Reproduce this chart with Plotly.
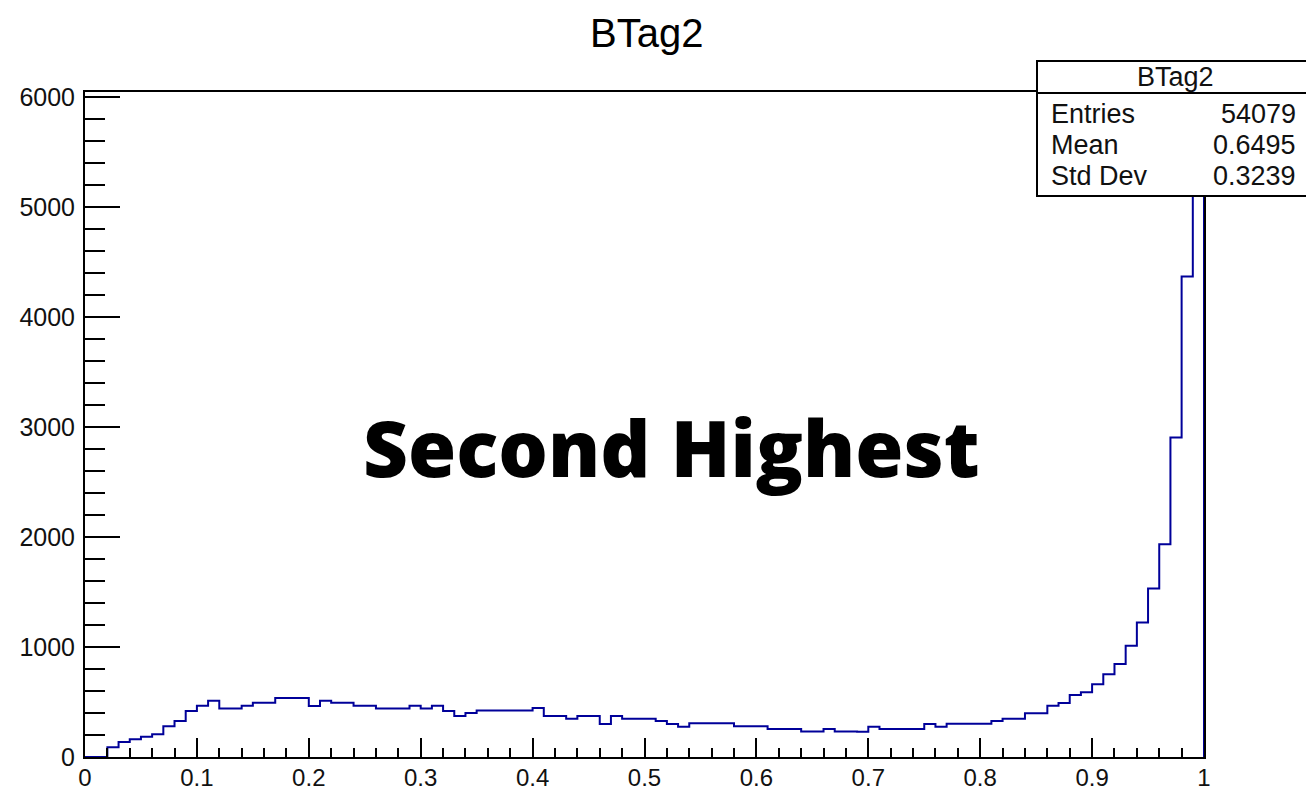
import plotly.graph_objects as go

# ---- data -------------------------------------------------------------
n_bins = 100
bin_width = 0.01
counts = [
    0, 0, 88, 136, 161, 185, 206, 279, 327, 418,          # 0.00-0.09
    467, 512, 442, 442, 467, 494, 494, 536, 536, 536,      # 0.10-0.19
    464, 512, 494, 494, 467, 467, 442, 442, 442, 467,      # 0.20-0.29
    442, 467, 418, 373, 400, 424, 424, 424, 424, 424,      # 0.30-0.39
    445, 373, 373, 348, 373, 373, 300, 373, 348, 348,      # 0.40-0.49
    348, 327, 300, 276, 306, 306, 306, 306, 279, 279,      # 0.50-0.59
    279, 255, 255, 255, 233, 233, 255, 233, 233, 230,      # 0.60-0.69
    276, 255, 255, 255, 255, 300, 276, 303, 303, 303,      # 0.70-0.79
    303, 327, 348, 348, 397, 397, 467, 491, 564, 588,      # 0.80-0.89
    661, 752, 845, 1012, 1224, 1533, 1936, 2905, 4370, 5760  # 0.90-0.99
]
x_tickvals = [0, 0.1, 0.2, 0.3, 0.4, 0.5, 0.6, 0.7, 0.8, 0.9, 1.0]
x_ticktext = ["0", "0.1", "0.2", "0.3", "0.4", "0.5", "0.6", "0.7", "0.8", "0.9", "1"]
y_tickvals = [0, 1000, 2000, 3000, 4000, 5000, 6000]
y_ticktext = ["0", "1000", "2000", "3000", "4000", "5000", "6000"]
title_text = "BTag2"
overlay_text = "Second Highest"
stats_labels = ["Entries", "Mean", "Std Dev"]
stats_values = ["54079", "0.6495", "0.3239"]

# step outline: bin edges + repeat last value
edges = [i * bin_width for i in range(n_bins + 1)]
step_y = counts + [counts[-1]]

# ---- figure -----------------------------------------------------------
# the page body adds an 8px offset, so the figure is sized to fit the window
W, H = 1306, 784
L, R, T, B = 77, 110, 84, 35
OFF = 8
pw, ph = W - L - R, H - T - B


def px2paper(xp, yp):
    """page-pixel position -> paper coordinates"""
    return (xp - OFF - L) / pw, (H - B - (yp - OFF)) / ph


fig = go.Figure()
fig.add_trace(go.Scatter(
    x=edges, y=step_y, mode="lines", line_shape="hv",
    line=dict(color="rgb(0,0,153)", width=2), hoverinfo="skip",
    showlegend=False,
))
# final drop at x = 1
fig.add_trace(go.Scatter(
    x=[edges[-1], edges[-1]], y=[counts[-1], 0], mode="lines",
    line=dict(color="rgb(0,0,153)", width=2), hoverinfo="skip",
    showlegend=False,
))

tickfont_y = dict(family="Liberation Sans, Arial, sans-serif", size=25, color="#111")
tickfont_x = dict(family="Liberation Sans, Arial, sans-serif", size=24, color="#111")

fig.update_layout(
    width=W, height=H,
    margin=dict(l=L, r=R, t=T, b=B, pad=0, autoexpand=False),
    paper_bgcolor="white", plot_bgcolor="white",
    showlegend=False,
    xaxis=dict(
        range=[0, 1], showgrid=False, zeroline=False, automargin=False,
        showline=True, linecolor="black", linewidth=2, mirror=True,
        ticks="inside", ticklen=19, tickwidth=2, tickcolor="black",
        tickvals=x_tickvals, ticktext=x_ticktext, tickfont=tickfont_x,
        minor=dict(ticks="inside", dtick=0.02, ticklen=9, tickwidth=2,
                   tickcolor="black", showgrid=False),
        ticklabelstandoff=-2,
    ),
    yaxis=dict(
        range=[0, 6048], showgrid=False, zeroline=False, automargin=False,
        showline=True, linecolor="black", linewidth=2, mirror=True,
        ticks="inside", ticklen=35, tickwidth=2, tickcolor="black",
        tickvals=y_tickvals, ticktext=y_ticktext, tickfont=tickfont_y,
        minor=dict(ticks="inside", dtick=200, ticklen=20, tickwidth=2,
                   tickcolor="black", showgrid=False),
        ticklabelstandoff=3,
    ),
)

annos = []
tx, ty = px2paper(646, 33)
annos.append(dict(x=tx, y=ty, xref="paper", yref="paper", text=title_text,
                  showarrow=False, xanchor="center", yanchor="middle",
                  font=dict(family="Liberation Sans, Arial, sans-serif", size=40, color="black")))
ox, oy = px2paper(671.5, 447)
annos.append(dict(x=ox, y=oy, xref="paper", yref="paper", text=overlay_text,
                  showarrow=False, xanchor="center", yanchor="middle",
                  font=dict(family="Open Sans, sans-serif", size=78, color="black", weight=800)))

# stats box
bx0, by0 = px2paper(1037, 196)
bx1, by1 = px2paper(1312, 61)
_, dy = px2paper(0, 93)
fig.add_shape(type="rect", xref="paper", yref="paper", x0=bx0, x1=bx1, y0=by0, y1=by1,
              fillcolor="white", line=dict(color="black", width=2), layer="above")
fig.add_shape(type="line", xref="paper", yref="paper", x0=bx0, x1=bx1, y0=dy, y1=dy,
              line=dict(color="black", width=2), layer="above")
statfont = dict(family="Liberation Sans, Arial, sans-serif", size=27, color="#111")
hx, hy = px2paper(1175, 77)
annos.append(dict(x=hx, y=hy, xref="paper", yref="paper", text=title_text,
                  showarrow=False, xanchor="center", yanchor="middle", font=statfont))
for lab, val, ypx in zip(stats_labels, stats_values, [114, 145, 176]):
    lx, ly = px2paper(1049, ypx)
    rx, _ = px2paper(1298, ypx)
    annos.append(dict(x=lx, y=ly, xref="paper", yref="paper", text=lab, showarrow=False,
                      xanchor="left", yanchor="middle", font=statfont))
    annos.append(dict(x=rx, y=ly, xref="paper", yref="paper", text=val, showarrow=False,
                      xanchor="right", yanchor="middle", font=statfont))
fig.update_layout(annotations=annos)

fig.write_html("out.html")
